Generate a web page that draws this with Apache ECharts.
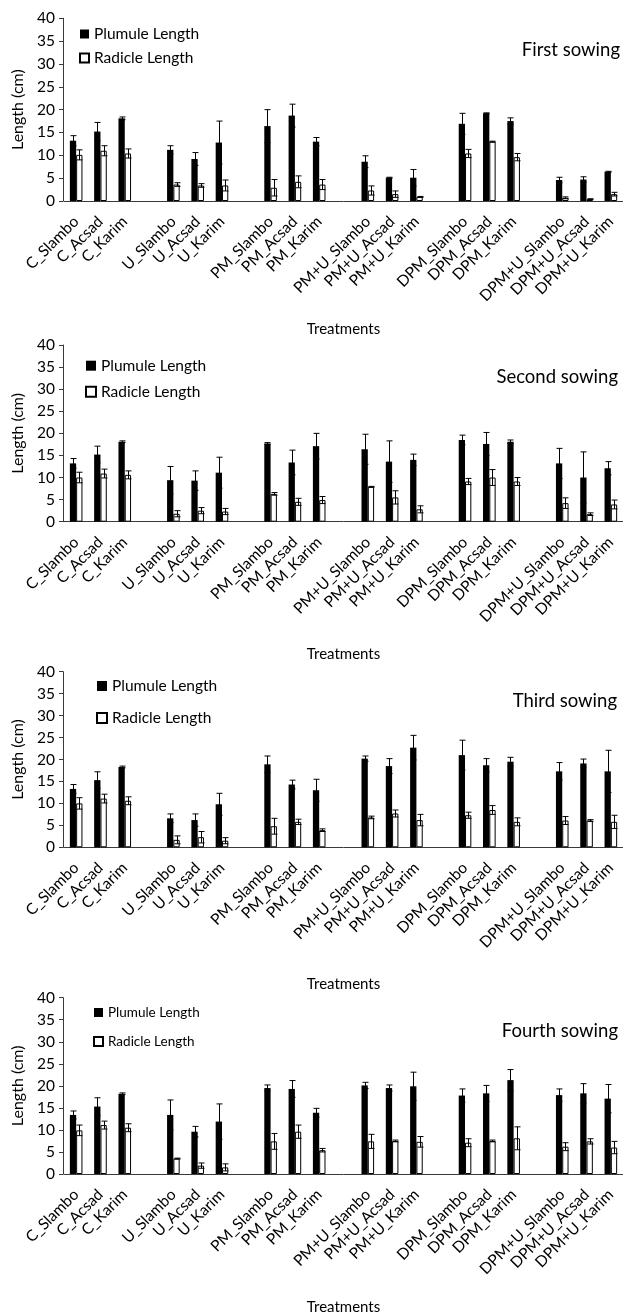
<!DOCTYPE html>
<html>
<head>
<meta charset="utf-8">
<script src="https://cdn.jsdelivr.net/npm/echarts@6/dist/echarts.min.js"></script>
<style>
html,body{margin:0;padding:0;background:#fff;}
#chart{width:623px;height:1316px;}
</style>
</head>
<body>
<div id="chart"></div>
<script>
// Treatments (gaps separate the six treatment groups)
var treatments = ['C_Slambo','C_Acsad','C_Karim','U_Slambo','U_Acsad','U_Karim','PM_Slambo','PM_Acsad','PM_Karim','PM+U_Slambo','PM+U_Acsad','PM+U_Karim','DPM_Slambo','DPM_Acsad','DPM_Karim','DPM+U_Slambo','DPM+U_Acsad','DPM+U_Karim'];
var panelTitles = ['First sowing','Second sowing','Third sowing','Fourth sowing'];
var seriesNames = ['Plumule Length','Radicle Length'];
var yTicks = [0,5,10,15,20,25,30,35,40];

// First sowing
var plumule1    = [13.2,15.2,18.1,11.2,9.2,12.8,16.4,18.7,13.0,8.6,5.1,5.1,16.9,19.2,17.5,4.6,4.7,6.4];
var plumule1Err = [1.1,2.0,0.3,0.9,1.4,4.7,3.6,2.5,0.9,1.3,0.1,1.8,2.3,0.1,0.7,0.6,0.6,0.1];
var radicle1    = [10.1,11.0,10.4,3.6,3.4,3.4,2.9,4.2,3.6,2.3,1.5,0.9,10.4,13.0,9.6,0.7,0.4,1.5];
var radicle1Err = [1.1,1.1,1.0,0.4,0.4,1.2,1.8,1.3,1.1,1.0,0.7,0.1,0.9,0.1,0.8,0.2,0.1,0.4];
// Second sowing
var plumule2    = [13.2,15.2,18.1,9.4,9.3,11.1,17.7,13.4,17.1,16.4,13.6,14.0,18.5,17.6,18.1,13.2,10.0,12.1];
var plumule2Err = [1.1,1.9,0.2,3.1,2.2,3.5,0.2,2.8,2.9,3.4,4.7,1.3,1.1,2.6,0.4,3.4,5.8,1.5];
var radicle2    = [10.0,10.9,10.6,1.8,2.5,2.3,6.3,4.5,4.9,7.9,5.5,2.8,9.1,10.0,9.1,4.2,1.7,3.9];
var radicle2Err = [1.2,1.0,0.9,0.7,0.7,0.7,0.3,0.8,0.8,0.1,1.5,0.8,0.7,1.8,0.9,1.2,0.3,1.0];
// Third sowing
var plumule3    = [13.3,15.3,18.3,6.6,6.2,9.8,18.9,14.3,13.0,20.2,18.5,22.7,21.0,18.7,19.5,17.3,19.1,17.3];
var plumule3Err = [1.0,1.9,0.2,1.0,1.4,2.5,1.9,1.0,2.5,0.6,1.7,2.8,3.4,1.5,1.0,2.0,1.0,4.8];
var radicle3    = [10.0,11.1,10.6,1.7,2.3,1.5,4.8,5.8,3.9,6.8,7.7,6.2,7.3,8.5,5.8,6.1,6.1,5.8];
var radicle3Err = [1.3,1.0,0.9,0.9,1.3,0.7,1.8,0.6,0.3,0.3,0.8,1.3,0.7,1.0,0.9,0.9,0.2,1.5];
// Fourth sowing
var plumule4    = [13.4,15.3,18.2,13.4,9.6,11.9,19.5,19.3,13.9,20.1,19.5,19.9,17.8,18.3,21.3,17.9,18.3,17.1];
var plumule4Err = [0.9,2.0,0.2,3.4,1.2,4.0,0.7,1.9,1.0,0.7,0.7,3.2,1.5,1.8,2.4,1.4,2.2,3.2];
var radicle4    = [9.9,11.1,10.5,3.5,1.9,1.5,7.4,9.6,5.4,7.4,7.5,7.3,7.1,7.5,8.1,6.2,7.4,6.0];
var radicle4Err = [1.2,0.9,0.9,0.1,0.6,0.8,1.8,1.5,0.4,1.6,0.2,1.2,0.9,0.2,2.6,0.9,0.6,1.4];

var panels = [
  {p:plumule1,pe:plumule1Err,r:radicle1,re:radicle1Err},
  {p:plumule2,pe:plumule2Err,r:radicle2,re:radicle2Err},
  {p:plumule3,pe:plumule3Err,r:radicle3,re:radicle3Err},
  {p:plumule4,pe:plumule4Err,r:radicle4,re:radicle4Err}
];

// Build category axis with blank slots between groups of three
var cats = [], slotIndex = [], gapCount = 0;
treatments.forEach(function(t, i){
  if (i > 0 && i % 3 === 0) { cats.push(new Array(++gapCount + 1).join(' ')); }
  slotIndex.push(cats.length);
  cats.push(t);
});
function toSlots(arr){
  var out = cats.map(function(){ return null; });
  arr.forEach(function(v,i){ out[slotIndex[i]] = v; });
  return out;
}
function errData(vals, errs){
  return vals.map(function(v,i){ return [slotIndex[i], v, errs[i]]; });
}

var FONT = 'Lato';
var BARW = 6.3;

// layout per panel
var L = [
  {top:18.3, h:182.7, nameGap:121, legLeft:79, legTop:26, legW:9, legGap:8, legFs:15.5, legLh:16, titleRight:3, titleTop:39},
  {top:345,  h:176.7, nameGap:125, legLeft:85, legTop:357.7, legW:10, legGap:10, legFs:15.5, legLh:16, titleRight:5, titleTop:366},
  {top:671.7,h:175.6, nameGap:129, legLeft:96, legTop:678, legW:10, legGap:16, legFs:15.5, legLh:16, titleRight:6, titleTop:690},
  {top:997.7,h:177.3, nameGap:126, legLeft:93, legTop:1005, legW:9, legGap:14, legFs:13.5, legLh:15, titleRight:5, titleTop:1020}
];

function errRender(offset){
  return function(params, api){
    var x = api.value(0), v = api.value(1), e = api.value(2);
    var hi = api.coord([x, v + e]);
    var lo = api.coord([x, Math.max(0, v - e)]);
    var cx = Math.round(hi[0] + offset) + 0.5;
    var cap = 3;
    var st = {stroke:'#000', lineWidth:1};
    return {type:'group', children:[
      {type:'line', shape:{x1:cx, y1:hi[1], x2:cx, y2:lo[1]}, style:st},
      {type:'line', shape:{x1:cx-cap, y1:hi[1], x2:cx+cap, y2:hi[1]}, style:st},
      {type:'line', shape:{x1:cx-cap, y1:lo[1], x2:cx+cap, y2:lo[1]}, style:st}
    ]};
  };
}

var grids = [], xAxes = [], yAxes = [], series = [], legends = [], titles = [];
panels.forEach(function(pn, k){
  var l = L[k];
  grids.push({left:64, width:560, top:l.top, height:l.h});
  xAxes.push({
    type:'category', gridIndex:k, data:cats,
    axisLine:{lineStyle:{color:'#3a3a3a', width:1}},
    axisTick:{show:false},
    axisLabel:{interval:0, rotate:45, fontFamily:FONT, fontSize:15.5, color:'#000', margin:18, padding:[12,0,0,0]},
    name:'Treatments', nameLocation:'middle', nameGap:l.nameGap,
    nameTextStyle:{fontFamily:FONT, fontSize:15, color:'#000'}
  });
  yAxes.push({
    type:'value', gridIndex:k, min:yTicks[0], max:yTicks[yTicks.length-1], interval:5,
    offset:1,
    axisLine:{show:true, lineStyle:{color:'#3a3a3a', width:1}},
    axisTick:{show:true, length:4, lineStyle:{color:'#3a3a3a'}},
    splitLine:{show:false},
    axisLabel:{fontFamily:FONT, fontSize:15.5, color:'#000', margin:8},
    name:'Length (cm)', nameLocation:'middle', nameGap:37,
    nameTextStyle:{fontFamily:FONT, fontSize:16, color:'#000'}
  });
  series.push({
    type:'bar', name:seriesNames[0], xAxisIndex:k, yAxisIndex:k,
    data:toSlots(pn.p), barWidth:BARW, barGap:'0%',
    itemStyle:{color:'#000', borderColor:'#000', borderWidth:0}
  });
  series.push({
    type:'bar', name:seriesNames[1], xAxisIndex:k, yAxisIndex:k,
    data:toSlots(pn.r), barWidth:BARW, barGap:'0%',
    itemStyle:{color:'#fff', borderColor:'#000', borderWidth:1}
  });
  series.push({
    type:'custom', xAxisIndex:k, yAxisIndex:k, z:5,
    data:errData(pn.p, pn.pe), renderItem:errRender(-BARW/2), encode:{x:0,y:1}
  });
  series.push({
    type:'custom', xAxisIndex:k, yAxisIndex:k, z:5,
    data:errData(pn.r, pn.re), renderItem:errRender(BARW/2), encode:{x:0,y:1}
  });
  legends.push({
    orient:'vertical', left:l.legLeft, top:l.legTop, padding:0,
    itemWidth:l.legW, itemHeight:l.legW, itemGap:l.legGap, icon:'rect',
    selectedMode:false,
    data:seriesNames,
    textStyle:{fontFamily:FONT, fontSize:l.legFs, lineHeight:l.legLh, color:'#000'}
  });
  titles.push({
    text:panelTitles[k], right:l.titleRight, top:l.titleTop, padding:0,
    textStyle:{fontFamily:FONT, fontSize:18.5, lineHeight:22, fontWeight:'normal', color:'#000'}
  });
});

var chart = echarts.init(document.getElementById('chart'), null, {renderer:'canvas'});
chart.setOption({
  animation:false,
  backgroundColor:'#fff',
  title:titles,
  legend:legends,
  grid:grids,
  xAxis:xAxes,
  yAxis:yAxes,
  series:series
});
</script>
</body>
</html>
